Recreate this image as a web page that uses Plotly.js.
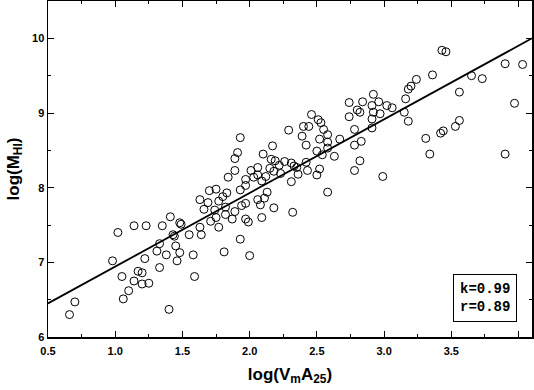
<!DOCTYPE html>
<html>
<head>
<meta charset="utf-8">
<script src="https://cdn.plot.ly/plotly-3.0.1.min.js"></script>
<style>
  html, body { margin: 0; padding: 0; background: #fff; }
  #chart { width: 534px; height: 390px; }
</style>
</head>
<body>
<div id="chart"></div>
<script>
// log(Vm A25) of each galaxy
const logVA = [
  3.43, 3.46, 3.90, 4.03, 3.36, 3.65, 3.73, 3.24, 3.20, 3.18,
  3.56, 3.16, 3.97, 3.06, 3.15, 3.18, 3.56, 3.53, 3.44, 3.42,
  3.31, 3.34, 3.90,
  2.92, 2.74, 2.84, 2.96, 2.91, 3.02, 2.80, 2.82, 2.92, 2.97,
  2.46, 2.74, 2.51, 2.53, 2.91, 2.29, 2.40, 2.44, 2.55, 2.78,
  2.91, 2.58, 2.39, 2.52, 2.67, 2.58, 2.83, 2.42, 2.78, 2.58,
  2.50, 2.54, 2.63, 2.26, 2.31, 2.42, 2.33, 2.35, 2.82, 2.52,
  2.43, 2.78, 2.36, 2.50, 2.99, 2.31, 2.58, 2.32,
  1.93, 2.17, 1.91, 1.89, 2.10, 2.16, 2.19, 2.22, 2.18, 2.23,
  2.15, 2.06, 2.01, 1.89, 1.84, 2.06, 2.12, 2.03, 1.97, 1.97,
  1.93, 2.09, 1.75, 1.70, 1.83, 2.13, 2.11, 2.06, 1.80, 1.77,
  1.63, 1.69, 1.97, 2.08, 1.66, 1.74, 1.82, 1.89, 1.94, 2.18,
  1.82, 1.87, 1.71, 1.75, 1.97, 1.99, 2.09, 1.77, 1.48, 1.49,
  1.63, 1.55, 1.64, 1.44, 1.93, 1.45, 1.48, 1.46, 1.58, 1.81,
  2.00, 1.59,
  1.41, 1.14, 1.23, 1.35, 1.02, 1.43, 1.33, 1.31, 1.38, 1.22,
  0.98, 1.33, 1.17, 1.20, 1.05, 1.14, 1.20, 1.25, 1.10, 1.06,
  0.70, 0.66, 1.40
];

// log(M_HI) of each galaxy
const logMHI = [
  9.84, 9.82, 9.66, 9.65, 9.51, 9.50, 9.46, 9.45, 9.36, 9.32,
  9.28, 9.19, 9.13, 9.07, 9.01, 8.89, 8.90, 8.82, 8.76, 8.73,
  8.66, 8.45, 8.45,
  9.25, 9.14, 9.15, 9.15, 9.10, 9.10, 9.04, 9.01, 9.01, 8.99,
  8.98, 8.95, 8.91, 8.87, 8.92, 8.77, 8.82, 8.82, 8.78, 8.78,
  8.80, 8.71, 8.69, 8.65, 8.65, 8.61, 8.62, 8.57, 8.57, 8.53,
  8.49, 8.44, 8.42, 8.35, 8.33, 8.34, 8.29, 8.27, 8.36, 8.25,
  8.23, 8.23, 8.18, 8.17, 8.15, 8.08, 7.94, 7.67,
  8.67, 8.56, 8.47, 8.39, 8.45, 8.38, 8.36, 8.30, 8.22, 8.19,
  8.26, 8.27, 8.23, 8.23, 8.14, 8.17, 8.15, 8.14, 8.11, 8.03,
  7.97, 8.09, 7.98, 7.96, 7.93, 7.94, 7.86, 7.84, 7.88, 7.82,
  7.84, 7.80, 7.79, 7.77, 7.71, 7.70, 7.74, 7.68, 7.76, 7.73,
  7.64, 7.58, 7.55, 7.60, 7.58, 7.54, 7.60, 7.47, 7.53, 7.51,
  7.47, 7.37, 7.37, 7.35, 7.31, 7.22, 7.13, 7.02, 7.10, 7.14,
  7.09, 6.81,
  7.61, 7.49, 7.49, 7.49, 7.40, 7.37, 7.25, 7.15, 7.10, 7.05,
  7.02, 6.93, 6.88, 6.86, 6.81, 6.75, 6.71, 6.72, 6.62, 6.51,
  6.47, 6.30, 6.37
];

// fitted line, end points
const fitX = [0.5, 4.1];
const fitY = [6.45, 10.0];

const xTickVals = [0.5, 1.0, 1.5, 2.0, 2.5, 3.0, 3.5, 4.0];
const xTickText = ['0.5', '1.0', '1.5', '2.0', '2.5', '3.0', '3.5', ''];
const yTickVals = [6, 7, 8, 9, 10];

const fitLabel = 'k=0.99<br>r=0.89';

const tickFont = { family: 'Liberation Sans, Arial, sans-serif', size: 11, color: '#000', weight: 'bold' };

const traces = [
  {
    x: logVA,
    y: logMHI,
    type: 'scatter',
    mode: 'markers',
    marker: { symbol: 'circle-open', size: 8, color: '#000', line: { width: 1, color: '#000' } },
    hoverinfo: 'x+y'
  },
  {
    x: fitX,
    y: fitY,
    type: 'scatter',
    mode: 'lines',
    line: { color: '#000', width: 1.8 },
    hoverinfo: 'skip'
  }
];

const axisBase = {
  showgrid: false,
  zeroline: false,
  showline: true,
  linecolor: '#000',
  linewidth: 1.5,
  mirror: 'ticks',
  ticks: 'inside',
  ticklen: 6,
  tickwidth: 1,
  tickcolor: '#000',
  tickfont: tickFont
};

const layout = {
  width: 534,
  height: 390,
  margin: { l: 48, r: 2, t: 1, b: 53 },
  paper_bgcolor: '#fff',
  plot_bgcolor: '#fff',
  showlegend: false,
  xaxis: Object.assign({}, axisBase, {
    range: [0.5, 4.1],
    tickmode: 'array',
    tickvals: xTickVals,
    ticktext: xTickText,
    ticklabelstandoff: 3,
    minor: { ticks: 'inside', ticklen: 3, dtick: 0.25, tick0: 0.5, tickcolor: '#000', tickwidth: 1 },
    title: {
      text: 'log(V<sub>m</sub>A<sub>25</sub>)',
      font: { family: 'Liberation Sans, Arial, sans-serif', size: 17, color: '#000', weight: 'bold' },
      standoff: 12
    }
  }),
  yaxis: Object.assign({}, axisBase, {
    range: [6, 10.5],
    tickmode: 'array',
    tickvals: yTickVals,
    ticktext: yTickVals.map(String),
    minor: { ticks: 'inside', ticklen: 3, dtick: 0.5, tick0: 6, tickcolor: '#000', tickwidth: 1 },
    title: {
      text: 'log(M<sub>HI</sub>)',
      font: { family: 'Liberation Sans, Arial, sans-serif', size: 17, color: '#000', weight: 'bold' },
      standoff: 8
    }
  }),
  annotations: [{
    xref: 'paper',
    yref: 'paper',
    x: 0.97,
    y: 0.044,
    xanchor: 'right',
    yanchor: 'bottom',
    text: fitLabel,
    showarrow: false,
    align: 'right',
    font: { family: 'Liberation Mono, DejaVu Sans Mono, monospace', size: 14, color: '#000', weight: 'bold' },
    bordercolor: '#000',
    borderwidth: 1,
    borderpad: 6,
    bgcolor: '#fff'
  }]
};

Plotly.newPlot('chart', traces, layout, { displayModeBar: false, staticPlot: true });
</script>
</body>
</html>
